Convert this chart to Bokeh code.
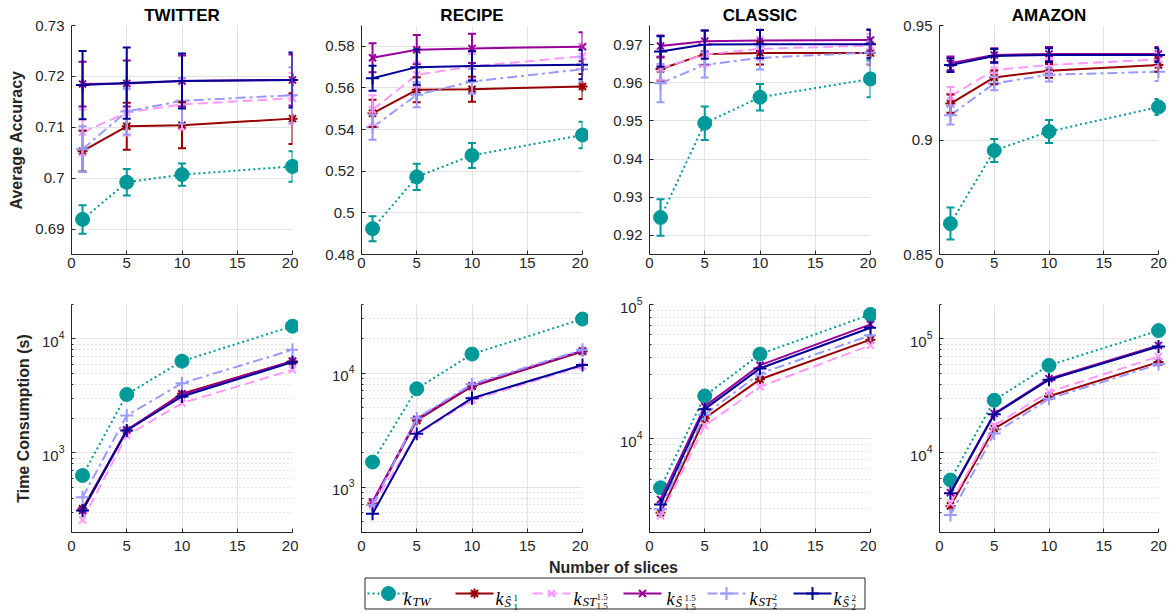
from bokeh.plotting import figure
from bokeh.layouts import column, row
from bokeh.models import (Range1d, FixedTicker, Whisker, TeeHead, ColumnDataSource,
                          LogTickFormatter, NumeralTickFormatter)
from bokeh.core.properties import value
from bokeh.embed import file_html
from bokeh.resources import INLINE

# ---------------- data ----------------
slices = [1, 5, 10, 20]
datasets = ["TWITTER", "RECIPE", "CLASSIC", "AMAZON"]

# average accuracy, one list per dataset (TWITTER, RECIPE, CLASSIC, AMAZON)
acc_kTW = [[0.6919, 0.6992, 0.7007, 0.7023], [0.4924, 0.5173, 0.5276, 0.5374],
           [0.9247, 0.9494, 0.9562, 0.9610], [0.8635, 0.8954, 0.9037, 0.9144]]
acc_kS1 = [[0.7053, 0.7102, 0.7104, 0.7117], [0.5478, 0.5591, 0.5594, 0.5607],
           [0.9636, 0.9675, 0.9678, 0.9678], [0.9159, 0.9273, 0.9302, 0.9328]]
acc_kST15 = [[0.7090, 0.7129, 0.7145, 0.7157], [0.5495, 0.5663, 0.5704, 0.5752],
             [0.9638, 0.9674, 0.9689, 0.9697], [0.9191, 0.9305, 0.9328, 0.9352]]
acc_kS15 = [[0.7185, 0.7186, 0.7191, 0.7193], [0.5745, 0.5784, 0.5790, 0.5798],
            [0.9696, 0.9709, 0.9711, 0.9712], [0.9335, 0.9371, 0.9376, 0.9376]]
acc_kST2 = [[0.7057, 0.7131, 0.7152, 0.7163], [0.5411, 0.5567, 0.5631, 0.5690],
            [0.9599, 0.9647, 0.9665, 0.9679], [0.9108, 0.9247, 0.9285, 0.9298]]
acc_kS2 = [[0.7183, 0.7187, 0.7191, 0.7193], [0.5647, 0.5700, 0.5706, 0.5712],
           [0.9682, 0.9700, 0.9701, 0.9701], [0.9327, 0.9367, 0.9371, 0.9371]]

# error bar half-widths
err_kTW = [[0.0028, 0.0026, 0.0022, 0.0030], [0.0060, 0.0063, 0.0060, 0.0064],
           [0.0048, 0.0044, 0.0035, 0.0048], [0.0070, 0.0050, 0.0050, 0.0035]]
err_kS1 = [[0.0040, 0.0046, 0.0045, 0.0050], [0.0065, 0.0060, 0.0060, 0.0060],
           [0.0030, 0.0030, 0.0030, 0.0030], [0.0040, 0.0030, 0.0030, 0.0030]]
err_kST15 = [[0.0045, 0.0045, 0.0050, 0.0050], [0.0070, 0.0060, 0.0060, 0.0060],
             [0.0030, 0.0030, 0.0030, 0.0030], [0.0040, 0.0030, 0.0030, 0.0030]]
err_kS15 = [[0.0044, 0.0045, 0.0050, 0.0050], [0.0070, 0.0070, 0.0070, 0.0070],
            [0.0028, 0.0028, 0.0028, 0.0028], [0.0030, 0.0030, 0.0030, 0.0030]]
err_kST2 = [[0.0045, 0.0045, 0.0045, 0.0055], [0.0060, 0.0060, 0.0060, 0.0060],
            [0.0050, 0.0033, 0.0030, 0.0030], [0.0040, 0.0030, 0.0030, 0.0040]]
err_kS2 = [[0.0067, 0.0070, 0.0054, 0.0054], [0.0060, 0.0085, 0.0070, 0.0070],
           [0.0040, 0.0037, 0.0037, 0.0037], [0.0030, 0.0030, 0.0030, 0.0030]]

# time consumption (s)
time_kTW = [[632, 3250, 6370, 12900], [1660, 7290, 14700, 29800],
            [4310, 20800, 42700, 84300], [5770, 28900, 58500, 118000]]
time_kS1 = [[323, 1570, 3300, 6370], [724, 3850, 7640, 15500],
            [2810, 14200, 27700, 54700], [3420, 16300, 31300, 62500]]
time_kST15 = [[258, 1420, 2730, 5350], [690, 2900, 5800, 11500],
              [2660, 12500, 24400, 49700], [3610, 17400, 34200, 70000]]
time_kS15 = [[312, 1590, 3250, 6370], [745, 3950, 7750, 15700],
             [3530, 17400, 35300, 71100], [4470, 22100, 44700, 87500]]
time_kST2 = [[408, 2120, 4080, 8000], [700, 4030, 8000, 16000],
             [2980, 15100, 30600, 58900], [2850, 14800, 29800, 59700]]
time_kS2 = [[312, 1570, 3120, 6240], [583, 2940, 6030, 11800],
            [3240, 16600, 33400, 67100], [4410, 21800, 43800, 85700]]

acc_ylim = [(0.685, 0.73), (0.48, 0.59), (0.915, 0.975), (0.85, 0.95)]
acc_ticks = [[0.69, 0.70, 0.71, 0.72, 0.73], [0.48, 0.50, 0.52, 0.54, 0.56, 0.58],
             [0.92, 0.93, 0.94, 0.95, 0.96, 0.97], [0.85, 0.90, 0.95]]
time_ylim = [(200, 2e4), (400, 4e4), (2000, 1e5), (2000, 2e5)]
time_ticks = [[1e3, 1e4], [1e3, 1e4], [1e4, 1e5], [1e4, 1e5]]
x_ticks = [0, 5, 10, 15, 20]

# ---------------- styles ----------------
acc_series = [acc_kTW, acc_kS1, acc_kST15, acc_kS15, acc_kST2, acc_kS2]
err_series = [err_kTW, err_kS1, err_kST15, err_kS15, err_kST2, err_kS2]
time_series = [time_kTW, time_kS1, time_kST15, time_kS15, time_kST2, time_kS2]
colors = ["#009999", "#990000", "#FF99FF", "#990099", "#9999FF", "#000099"]
dashes = ["2 3", "solid", "10 5", "solid", "10 4 3 4", "solid"]
markers = ["circle", "asterisk", "x", "x", "cross", "cross"]
msizes = [14, 10, 10, 10, 13, 13]

AXC = "#262626"
GRID = "#e3e3e3"
FONT = "Liberation Sans"

FW = [221, 221, 221, 219]
LB = [71, 63, 61, 63]
RB = [6, 6, 6, 14]


def minor_list(lo, hi):
    out = []
    for e in range(1, 7):
        for m in range(2, 10):
            v = m * 10 ** e
            if lo <= v <= hi:
                out.append(v)
    return out


def make_panel(col, top):
    if top:
        ylo, yhi = acc_ylim[col]
        p = figure(frame_width=FW[col], frame_height=229, min_border_left=LB[col],
                   min_border_right=RB[col], min_border_top=25, min_border_bottom=30,
                   x_range=Range1d(0, 20), y_range=Range1d(ylo, yhi), title=datasets[col],
                   output_backend="svg", toolbar_location=None)
        p.title.align = "center"
        p.title.text_font = FONT
        p.title.text_font_style = "bold"
        p.title.text_font_size = "17px"
        p.title.text_color = "black"
        p.title.standoff = 2
        p.title.offset = 0
        p.yaxis.ticker = FixedTicker(ticks=acc_ticks[col])
        p.yaxis.formatter = NumeralTickFormatter(format="0.[00]")
    else:
        ylo, yhi = time_ylim[col]
        p = figure(frame_width=FW[col], frame_height=228, min_border_left=LB[col],
                   min_border_right=RB[col], min_border_top=20, min_border_bottom=26,
                   x_range=Range1d(0, 20), y_range=Range1d(ylo, yhi), y_axis_type="log",
                   output_backend="svg", toolbar_location=None)
        p.yaxis.ticker = FixedTicker(ticks=time_ticks[col], minor_ticks=minor_list(ylo, yhi))
        p.yaxis.formatter = LogTickFormatter()
        p.ygrid.minor_grid_line_color = "#c4c4c4"
        p.ygrid.minor_grid_line_dash = "1 3"
        p.yaxis.minor_tick_in = 2
        p.yaxis.minor_tick_out = 0
        p.yaxis.minor_tick_line_color = AXC
    p.xaxis.ticker = FixedTicker(ticks=x_ticks)
    p.outline_line_color = None
    p.background_fill_color = "white"
    p.border_fill_color = "white"
    for ax in (p.xaxis, p.yaxis):
        ax.axis_line_color = AXC
        ax.major_tick_line_color = AXC
        ax.major_tick_in = 4
        ax.major_tick_out = 0
        ax.major_label_text_font = FONT
        ax.major_label_text_font_size = "15px"
        ax.major_label_text_color = AXC
    p.xaxis.minor_tick_line_color = None
    if top:
        p.yaxis.minor_tick_line_color = None
    p.yaxis.major_label_standoff = 7
    p.xaxis.major_label_standoff = 3 if top else 8
    p.xgrid.grid_line_color = GRID
    p.ygrid.grid_line_color = GRID
    if col == 0:
        p.yaxis.axis_label = "Average Accuracy" if top else "Time Consumption (s)"
        p.yaxis.axis_label_text_font = FONT
        p.yaxis.axis_label_text_font_style = "bold"
        p.yaxis.axis_label_text_font_size = "16px"
        p.yaxis.axis_label_text_color = AXC
        p.yaxis.axis_label_standoff = 7

    for s in range(6):
        ys = acc_series[s][col] if top else time_series[s][col]
        src = dict(x=slices, y=ys)
        c = colors[s]
        p.line("x", "y", source=ColumnDataSource(src), line_color=c, line_width=2,
               line_dash=dashes[s], level="overlay")
        if top:
            es = err_series[s][col]
            wsrc = ColumnDataSource(dict(x=slices,
                                         up=[v + e for v, e in zip(ys, es)],
                                         lo=[v - e for v, e in zip(ys, es)]))
            w = Whisker(base="x", upper="up", lower="lo", source=wsrc, line_color=c,
                        line_width=2, level="overlay",
                        upper_head=TeeHead(size=8, line_color=c, line_width=2),
                        lower_head=TeeHead(size=8, line_color=c, line_width=2))
            p.add_layout(w)
        if markers[s] == "circle":
            p.scatter("x", "y", source=ColumnDataSource(src), marker="circle", size=msizes[s],
                      fill_color=c, line_color=c, level="overlay")
        else:
            p.scatter("x", "y", source=ColumnDataSource(src), marker=markers[s], size=msizes[s],
                      fill_color=None, line_color=c, line_width=2, level="overlay")
    return p


top_row = [make_panel(i, True) for i in range(4)]
bot_row = [make_panel(i, False) for i in range(4)]

# ---------------- bottom legend strip ----------------
LW = sum(LB) + sum(FW) + sum(RB)
LH = 55
lg = figure(frame_width=LW, frame_height=LH, min_border=0, x_range=Range1d(0, LW),
            y_range=Range1d(LH, 0), output_backend="svg", toolbar_location=None)
lg.axis.visible = False
lg.grid.visible = False
lg.outline_line_color = None

lg.text(x=[613], y=[9], text=["Number of slices"], text_align="center", text_baseline="middle",
        text_font=value(FONT), text_font_style="bold", text_font_size="16px", text_color=AXC)
lg.quad(left=[364.5], right=[864.5], top=[19.5], bottom=[50.5], fill_color="white",
        line_color=AXC, line_width=1)

yc = 35
item_x = [367, 455, 532, 623, 707, 793]
for s in range(6):
    x0 = item_x[s]
    c = colors[s]
    lg.line([x0, x0 + 38], [yc, yc], line_color=c, line_width=2, line_dash=dashes[s])
    if markers[s] == "circle":
        lg.scatter([x0 + 21], [yc], marker="circle", size=msizes[s], fill_color=c, line_color=c)
    else:
        lg.scatter([x0 + 19], [yc], marker=markers[s], size=msizes[s], fill_color=None,
                   line_color=c, line_width=2)

SERIF = value("Liberation Serif")


def tx(x, y, t, size, style="italic"):
    lg.text(x=[x], y=[y], text=[t], text_align="left", text_baseline="alphabetic",
            text_font=SERIF, text_font_style=style, text_font_size=size, text_color="black")


label_x = [403, 495, 573, 666, 749, 833]
subs = ["TW", "\u015c", "ST", "\u015c", "ST", "\u015c"]
stack = [None, "1", "1.5", "1.5", "2", "2"]
for s in range(6):
    x0 = label_x[s]
    tx(x0, yc + 5, "k", "18px")
    if subs[s] == "TW":
        tx(x0 + 9, yc + 8, "TW", "13px")
    elif subs[s] == "ST":
        tx(x0 + 9, yc + 8, "ST", "13px")
        tx(x0 + 23, yc + 3, stack[s], "9px", "normal")
        tx(x0 + 23, yc + 12, stack[s], "9px", "normal")
    else:
        tx(x0 + 9, yc + 9, subs[s], "13px")
        tx(x0 + 18, yc + 4, stack[s], "9px", "normal")
        tx(x0 + 18, yc + 13, stack[s], "9px", "normal")

layout = column(row(*top_row), row(*bot_row), lg)
open("out.html", "w").write(file_html(layout, INLINE))
